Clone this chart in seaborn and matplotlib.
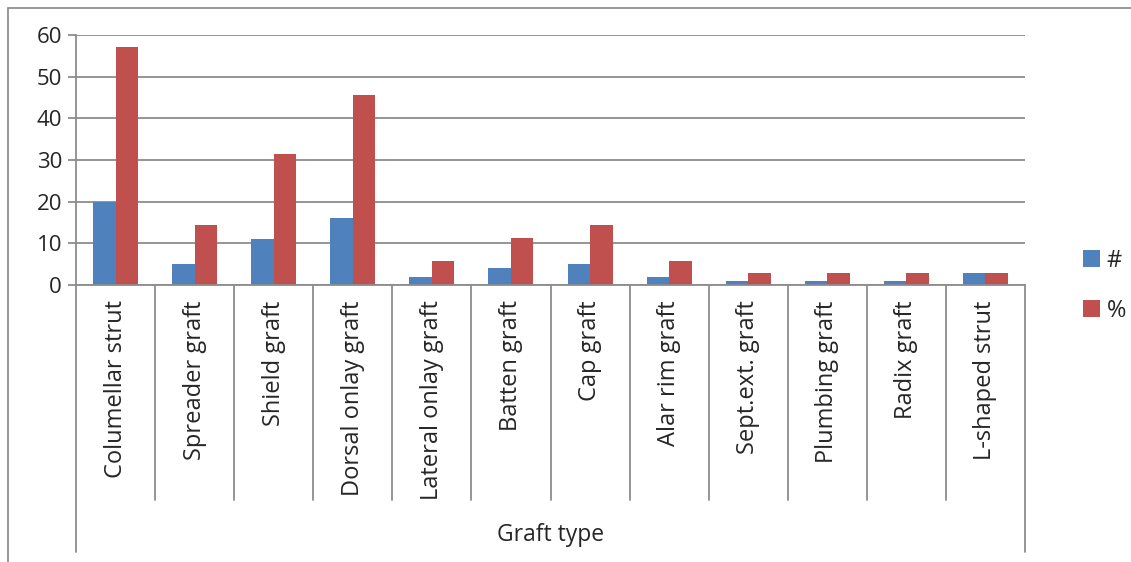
import matplotlib
matplotlib.use("Agg")
import matplotlib.pyplot as plt
import matplotlib.transforms as mtransforms
from matplotlib.patches import Patch, Rectangle
import numpy as np
import pandas as pd
import seaborn as sns

# --- dane ---
GRAFT_TYPES = [
    "Columellar strut", "Spreader graft", "Shield graft", "Dorsal onlay graft",
    "Lateral onlay graft", "Batten graft", "Cap graft", "Alar rim graft",
    "Sept.ext. graft", "Plumbing graft", "Radix graft", "L-shaped strut",
]
COUNT = [20, 5, 11, 16, 2, 4, 5, 2, 1, 1, 1, 3]
PERCENT = [57.1, 14.3, 31.4, 45.7, 5.7, 11.4, 14.3, 5.7, 2.9, 2.9, 2.9, 2.9]
SERIES = ["#", "%"]
Y_TICKS = [0, 10, 20, 30, 40, 50, 60]
X_TITLE = "Graft type"

# --- styl ---
BLUE = "#4F81BD"
RED = "#C0504D"
GRID = "#8C8C8C"
FONT = ["Open Sans", "DejaVu Sans"]

sns.set_style("white")
plt.rcParams["font.family"] = FONT

df = pd.DataFrame({
    "graft": GRAFT_TYPES * 2,
    "value": COUNT + PERCENT,
    "series": [SERIES[0]] * len(GRAFT_TYPES) + [SERIES[1]] * len(GRAFT_TYPES),
})

fig = plt.figure(figsize=(11.31, 5.62), dpi=100)
ax = fig.add_axes([76 / 1131, 1 - 285 / 562, (1025 - 76) / 1131, 250 / 562])

sns.barplot(
    data=df, x="graft", y="value", hue="series", order=GRAFT_TYPES,
    hue_order=SERIES, palette=[BLUE, RED], width=0.57, gap=0,
    errorbar=None, ax=ax, legend=False, linewidth=0, saturation=1,
)

ax.set_ylim(0, 60)
ax.set_xlim(-0.5, len(GRAFT_TYPES) - 0.5)
ax.set_yticks(Y_TICKS)
ax.set_yticklabels([str(t) for t in Y_TICKS], fontsize=16)
ax.yaxis.grid(True, color=GRID, linewidth=1.3)
ax.set_axisbelow(True)
ax.tick_params(axis="y", length=6, width=1.3, color=GRID, pad=4, left=True)
ax.tick_params(axis="x", length=0, pad=11)
ax.set_xticks(range(len(GRAFT_TYPES)))
ax.set_xticklabels(GRAFT_TYPES, rotation=90, fontsize=17, va="top", ha="center")
ax.set_xlabel("")
ax.set_ylabel("")
for side in ["top", "right"]:
    ax.spines[side].set_visible(False)
for side in ["left", "bottom"]:
    ax.spines[side].set_color(GRID)
    ax.spines[side].set_linewidth(1.3)

# linie podziału kategorii (oś wielopoziomowa)
trans = mtransforms.blended_transform_factory(ax.transData, ax.transAxes)
n = len(GRAFT_TYPES)
for i in range(n + 1):
    bottom = -1.068 if i in (0, n) else -0.86
    ax.plot([i - 0.5, i - 0.5], [0, bottom], color=GRID, linewidth=1.3,
            transform=trans, clip_on=False)

ax.text(0.5, -1.0, X_TITLE, transform=ax.transAxes, ha="center", va="center",
        fontsize=16.5)

# legenda
handles = [Patch(facecolor=BLUE, edgecolor="none"), Patch(facecolor=RED, edgecolor="none")]
fig.legend(handles, SERIES, loc="center left", bbox_to_anchor=(1062 / 1131, 1 - 286 / 562),
           frameon=False, fontsize=17, handlelength=0.7, handleheight=0.7,
           handletextpad=0.3, labelspacing=1.1)

# ramka wykresu
fig.patches.append(Rectangle((8 / 1131, -0.05), 1.2, 1 - 8 / 562 + 0.05,
                             transform=fig.transFigure, fill=False,
                             edgecolor="#888888", linewidth=1.2))

fig.savefig("out.png", dpi=100)
